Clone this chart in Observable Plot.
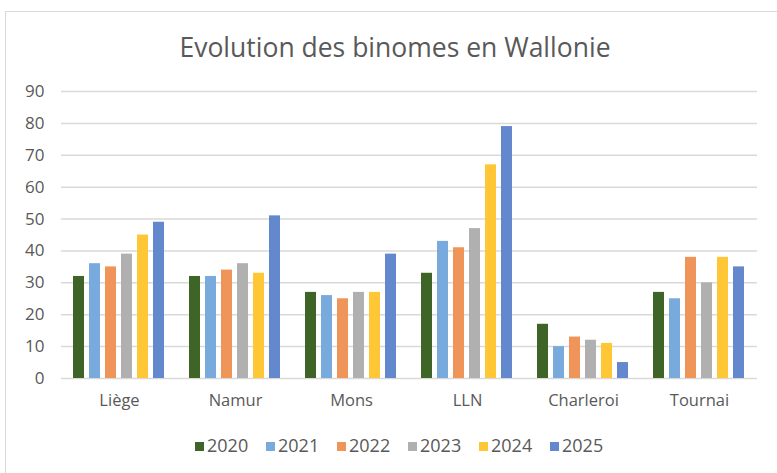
<!DOCTYPE html>
<html>
<head>
<meta charset="utf-8">
<script src="https://cdn.jsdelivr.net/npm/d3@7"></script>
<script src="https://cdn.jsdelivr.net/npm/@observablehq/plot@0.6"></script>
<style>
  html, body { margin: 0; padding: 0; background: #fff; }
  body { width: 777px; height: 473px; position: relative; overflow: hidden; font-family: "Open Sans", "Noto Sans", sans-serif; }
  #frame { position: absolute; left: 5px; top: 11px; width: 820px; height: 520px; border: 1px solid #d9d9d9; box-sizing: border-box; }
  #title { position: absolute; left: 0; width: 790px; top: 29px; text-align: center; font-size: 26.5px; color: #595959; line-height: normal; }
  #chart { position: absolute; left: 0; top: 0; }
  #legend { position: absolute; left: 195px; top: 433px; font-size: 18px; color: #595959; white-space: nowrap; line-height: normal; }
  #legend span.item { display: inline-block; width: 71px; }
  #legend span.sw { display: inline-block; width: 9px; height: 9px; margin-right: 3px; vertical-align: 1px; }
</style>
</head>
<body>
<div id="frame"></div>
<div id="title">Evolution des binomes en Wallonie</div>
<div id="chart"></div>
<div id="legend"></div>
<script>
const categories = ["Liège", "Namur", "Mons", "LLN", "Charleroi", "Tournai"];
const years = ["2020", "2021", "2022", "2023", "2024", "2025"];
const v2020 = [32, 32, 27, 33, 17, 27];
const v2021 = [36, 32, 26, 43, 10, 25];
const v2022 = [35, 34, 25, 41, 13, 38];
const v2023 = [39, 36, 27, 47, 12, 30];
const v2024 = [45, 33, 27, 67, 11, 38];
const v2025 = [49, 51, 39, 79, 5, 35];
const yTicks = [0, 10, 20, 30, 40, 50, 60, 70, 80, 90];
const colors = ["#3f6428", "#78aadd", "#f0955a", "#b0b0b0", "#ffc735", "#6488cd"];

const series = [v2020, v2021, v2022, v2023, v2024, v2025];
const data = [];
categories.forEach((c, i) => {
  years.forEach((y, j) => data.push({city: c, year: y, value: series[j][i]}));
});

const chart = Plot.plot({
  width: 777,
  height: 420,
  marginLeft: 59,
  marginRight: 19,
  marginTop: 91,
  marginBottom: 42,
  style: {fontFamily: "'Open Sans', 'Noto Sans', sans-serif", color: "#595959", background: "transparent"},
  fx: {domain: categories, padding: 0, label: null},
  x: {domain: years, paddingInner: 0.29, paddingOuter: 0.76, axis: null},
  y: {domain: [0, 90], label: null},
  color: {domain: years, range: colors},
  marks: [
    Plot.gridY(yTicks, {stroke: "#d9d9d9", strokeOpacity: 1, strokeWidth: 1.5}),
    Plot.barY(data, {fx: "city", x: "year", y: "value", fill: "year"}),
    Plot.axisY(yTicks, {tickSize: 0, tickPadding: 17, fontSize: 17, fill: "#595959", label: null}),
    Plot.axisFx({anchor: "bottom", tickSize: 0, tickPadding: 16, fontSize: 16.5, fill: "#595959", label: null})
  ]
});
document.getElementById("chart").appendChild(chart);

const legend = document.getElementById("legend");
years.forEach((y, i) => {
  const item = document.createElement("span");
  item.className = "item";
  const sw = document.createElement("span");
  sw.className = "sw";
  sw.style.background = colors[i];
  item.appendChild(sw);
  item.appendChild(document.createTextNode(y));
  legend.appendChild(item);
});
</script>
</body>
</html>
